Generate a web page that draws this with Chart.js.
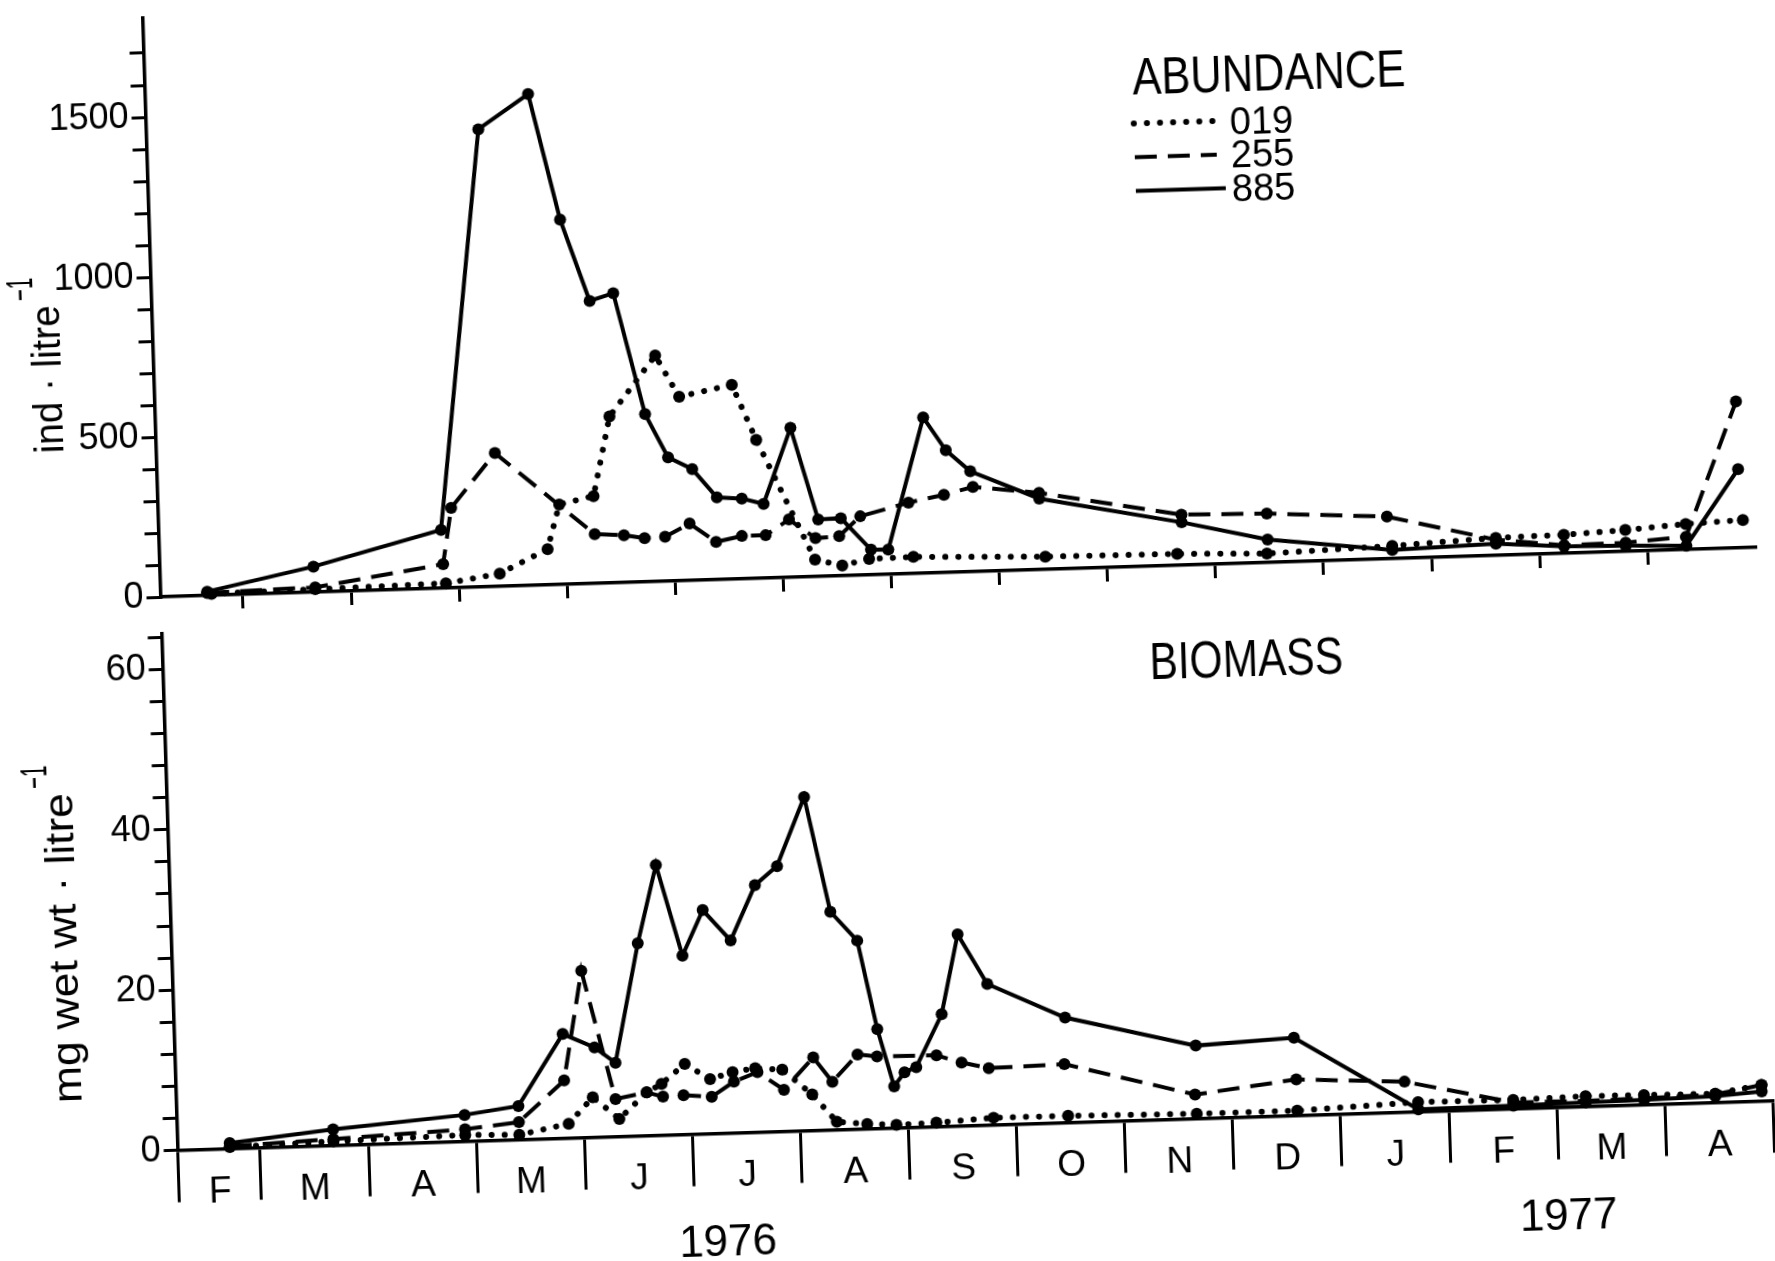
<!DOCTYPE html>
<html>
<head>
<meta charset="utf-8">
<script src="https://cdn.jsdelivr.net/npm/chart.js@4.4.1/dist/chart.umd.min.js"></script>
<style>
  html, body { margin: 0; padding: 0; background: #fff; overflow: hidden; }
  /* the scanned figure sits slightly tilted, so the whole drawing is turned a little */
  #figure { position: absolute; left: 0; top: 0; width: 1775px; height: 1320px;
            transform-origin: 159px 597px; transform: rotate(-1.78deg); }
  #top { position: absolute; left: 0; top: 0; }
  #bottom { position: absolute; left: 0; top: 600px; }
</style>
</head>
<body>
<div id="figure">
  <canvas id="top" width="1775" height="640"></canvas>
  <canvas id="bottom" width="1775" height="720"></canvas>
</div>
<script>
"use strict";

// x is months counted from 1 Feb 1976 (1 = 1 Mar 1976, 15 = 1 May 1977)
const monthLabels = ["F", "M", "A", "M", "J", "J", "A", "S", "O", "N", "D", "J", "F", "M", "A"];
const monthCentres = [0.62, 1.5, 2.5, 3.5, 4.5, 5.5, 6.5, 7.5, 8.5, 9.5, 10.5, 11.5, 12.5, 13.5, 14.5];
const monthBounds = [0.237, 1, 2, 3, 4, 5, 6, 7, 8, 9, 10, 11, 12, 13, 14, 15];
const yearLabels = ["1976", "1977"];
const yearCentres = [5.3, 13.08];

const abundTicks = [0, 100, 200, 300, 400, 500, 600, 700, 800, 900, 1000, 1100, 1200, 1300, 1400, 1500, 1600, 1700];
const abundTickLabels = [0, 500, 1000, 1500];
const bioTicks = [0, 4, 8, 12, 16, 20, 24, 28, 32, 36, 40, 44, 48, 52, 56, 60, 64];
const bioTickLabels = [0, 20, 40, 60];

// ABUNDANCE, ind per litre
const abundDays019 = [0.71, 1.67, 2.88, 3.38, 3.83, 3.95, 4.27, 4.44, 4.88, 5.09, 5.58, 5.79, 6.30, 6.55, 6.80, 7.21, 8.43, 9.65, 10.48, 11.64, 12.60, 13.23, 13.80, 14.36, 14.89];
const abund019 = [5, 9, 15, 40, 112, 250, 273, 520, 706, 575, 607, 433, 53, 32, 50, 52, 40, 36, 28, 40, 55, 58, 67, 80, 87];
const abundDays255 = [0.67, 1.67, 2.86, 2.95, 3.37, 4.27, 4.54, 4.73, 4.92, 5.15, 5.39, 5.63, 5.85, 6.07, 6.31, 6.53, 6.73, 7.18, 7.51, 7.78, 8.39, 9.70, 10.49, 11.60, 12.60, 13.23, 13.80, 14.36, 14.86];
const abund255 = [8, 15, 75, 250, 417, 154, 148, 137, 139, 178, 118, 134, 134, 181, 120, 124, 184, 222, 243, 265, 240, 158, 153, 132, 49, 25, 27, 40, 458];
const abundDays885 = [0.67, 1.66, 2.85, 3.31, 3.78, 4.04, 4.29, 4.51, 4.77, 4.97, 5.19, 5.41, 5.64, 5.84, 6.11, 6.34, 6.55, 6.82, 6.98, 7.34, 7.54, 7.76, 8.39, 9.70, 10.49, 11.64, 12.60, 13.23, 13.80, 14.36, 14.86];
const abund885 = [12, 80, 182, 1430, 1535, 1140, 883, 905, 524, 387, 348, 257, 251, 232, 467, 178, 180, 79, 77, 487, 382, 314, 222, 134, 72, 27, 37, 22, 18, 12, 246];

// BIOMASS, mg wet wt per litre
const bioDays019 = [0.72, 1.68, 2.90, 3.40, 3.86, 4.09, 4.33, 4.59, 4.73, 4.95, 5.18, 5.39, 5.60, 5.85, 6.12, 6.34, 6.62, 6.89, 7.26, 7.79, 8.48, 9.67, 10.60, 11.72, 12.60, 13.27, 13.81, 14.47, 14.90];
const bio019 = [0.2, 0.5, 0.8, 0.6, 1.8, 5.0, 2.2, 5.4, 6.4, 8.8, 6.8, 7.6, 8.0, 7.7, 4.5, 1.0, 0.6, 0.4, 0.5, 0.9, 0.85, 0.6, 0.6, 1.2, 1.1, 1.3, 1.2, 1.1, 2.0];
const bioDays255 = [0.72, 1.68, 2.90, 3.40, 3.83, 4.02, 4.30, 4.59, 4.74, 4.93, 5.19, 5.40, 5.62, 5.86, 6.14, 6.31, 6.55, 6.73, 7.28, 7.51, 7.76, 8.46, 9.66, 10.60, 11.60, 12.60, 13.27, 13.81, 14.47, 14.90];
const bio255 = [0.3, 0.8, 1.5, 2.2, 7.2, 20.8, 4.7, 5.4, 4.8, 4.9, 4.6, 6.4, 7.5, 5.2, 9.1, 6.0, 9.3, 9.0, 8.9, 7.9, 7.1, 7.3, 3.0, 4.5, 3.8, 0.8, 0.7, 0.8, 1.0, 2.0];
const bioDays885 = [0.72, 1.68, 2.90, 3.40, 3.83, 4.12, 4.31, 4.55, 4.74, 4.96, 5.16, 5.41, 5.65, 5.86, 6.13, 6.34, 6.58, 6.74, 6.88, 6.98, 7.09, 7.34, 7.51, 7.77, 8.48, 9.68, 10.59, 11.72, 12.60, 13.27, 13.81, 14.47, 14.90];
const bio885 = [0.7, 2.0, 3.3, 4.2, 13.0, 11.2, 9.2, 24.0, 33.7, 22.3, 27.9, 24.0, 30.8, 33.1, 41.6, 27.2, 23.5, 12.4, 5.2, 6.9, 7.5, 14.0, 23.9, 17.6, 13.1, 9.1, 9.7, 0.3, 0.4, 0.5, 0.6, 0.8, 1.2];

const FONT = "'Liberation Sans', Arial, sans-serif";
Chart.defaults.color = "#000";
Chart.defaults.font.family = FONT;

const X_MIN = monthBounds[0];
const X_MAX = monthBounds[monthBounds.length - 1];

const lineStyle = {
  "019": { borderDash: [0.1, 13], borderCapStyle: "round", borderWidth: 6 },
  "255": { borderDash: [22, 11], borderCapStyle: "butt", borderWidth: 4 },
  "885": { borderDash: [], borderCapStyle: "butt", borderWidth: 4 }
};

function series(label, days, values) {
  return Object.assign({
    label: label,
    data: days.map((d, i) => ({ x: d, y: values[i] })),
    borderColor: "#000",
    backgroundColor: "#000",
    pointBackgroundColor: "#000",
    pointRadius: 6,
    pointBorderWidth: 0,
    tension: 0,
    fill: false,
    clip: false
  }, lineStyle[label]);
}

function zeroPad(s) {
  s.paddingTop = 0; s.paddingBottom = 0; s.paddingLeft = 0; s.paddingRight = 0;
}

// text squeezed to the width of the narrow lettering in the original
function fitText(ctx, text, x, yMid, size, width) {
  ctx.save();
  ctx.font = size + "px " + FONT;
  const w = ctx.measureText(text).width;
  ctx.translate(x, yMid + size * 0.358);
  ctx.scale(width / w, 1);
  ctx.textBaseline = "alphabetic";
  ctx.textAlign = "left";
  ctx.fillText(text, 0, 0);
  ctx.restore();
}

// rotated axis title with a tall, narrow "-1" exponent, stretched to the length of the original
function sideTitle(ctx, text, x, y, size, length, supRaise) {
  ctx.save();
  ctx.translate(x, y);
  ctx.rotate(-Math.PI / 2);
  ctx.fillStyle = "#000";
  ctx.textBaseline = "alphabetic";
  ctx.textAlign = "left";
  ctx.font = size + "px " + FONT;
  const w = ctx.measureText(text).width;
  ctx.save();
  ctx.scale(length / w, 1);
  ctx.fillText(text, 0, 0);
  ctx.restore();
  ctx.translate(length + 5, -supRaise);
  ctx.scale(0.55, 1);
  ctx.font = "37px " + FONT;
  ctx.fillText("\u22121", 0, 0);
  ctx.restore();
}

const axisLine = { color: "#000", width: 3.5 };
const tickFont = { family: FONT, size: 36 };

// ---- top panel: ABUNDANCE ----
new Chart(document.getElementById("top").getContext("2d"), {
  type: "line",
  data: {
    datasets: [
      series("019", abundDays019, abund019),
      series("255", abundDays255, abund255),
      series("885", abundDays885, abund885)
    ]
  },
  options: {
    responsive: false,
    animation: false,
    layout: { padding: { left: 0, right: 18.6, top: 17.8, bottom: 0 } },
    plugins: { legend: { display: false }, tooltip: { enabled: false } },
    scales: {
      x: {
        type: "linear", min: X_MIN, max: X_MAX,
        afterBuildTicks: s => { s.ticks = monthBounds.slice(1, -1).map(v => ({ value: v })); },
        afterFit: s => { s.height = 43; zeroPad(s); },
        grid: { drawOnChartArea: false, tickLength: 14, color: "#000", lineWidth: 3 },
        border: axisLine,
        ticks: { display: false }
      },
      y: {
        min: 0, max: 1810,
        afterBuildTicks: s => { s.ticks = abundTicks.map(v => ({ value: v })); },
        afterFit: s => { s.width = 160.5; zeroPad(s); },
        grid: { drawOnChartArea: false, tickLength: 14, color: "#000", lineWidth: 3 },
        border: axisLine,
        ticks: {
          autoSkip: false, padding: 3, font: tickFont, color: "#000",
          callback: v => abundTickLabels.includes(v) ? String(v) : ""
        }
      }
    }
  },
  plugins: [{
    id: "abundanceText",
    afterDraw(chart) {
      const ctx = chart.ctx;
      ctx.save();
      ctx.fillStyle = "#000";
      ctx.strokeStyle = "#000";
      sideTitle(ctx, "ind · litre", 68, 450, 40, 148, 26);
      fitText(ctx, "ABUNDANCE", 1148, 106.6, 52, 273);
      chart.data.datasets.forEach((ds, i) => {
        const y = 154 + i * 33.7;
        ctx.save();
        ctx.lineWidth = ds.borderWidth;
        ctx.lineCap = ds.borderCapStyle;
        ctx.setLineDash(ds.borderDash);
        ctx.beginPath();
        ctx.moveTo(1148, y);
        ctx.lineTo(i === 2 ? 1238 : 1230, y);
        ctx.stroke();
        ctx.restore();
        ctx.font = "38px " + FONT;
        ctx.textBaseline = "alphabetic";
        ctx.fillText(ds.label, 1244, y + 13.5);
      });
      ctx.restore();
    }
  }]
});

// ---- bottom panel: BIOMASS ----
new Chart(document.getElementById("bottom").getContext("2d"), {
  type: "line",
  data: {
    datasets: [
      series("019", bioDays019, bio019),
      series("255", bioDays255, bio255),
      series("885", bioDays885, bio885)
    ]
  },
  options: {
    responsive: false,
    animation: false,
    layout: { padding: { left: 0, right: 18.6, top: 33.3, bottom: 0 } },
    plugins: { legend: { display: false }, tooltip: { enabled: false } },
    scales: {
      x: {
        type: "linear", position: "bottom", weight: 0, min: X_MIN, max: X_MAX,
        afterBuildTicks: s => {
          s.ticks = monthBounds.concat(monthCentres).sort((a, b) => a - b).map(v => ({ value: v }));
        },
        afterFit: s => { s.height = 60; zeroPad(s); },
        grid: {
          drawOnChartArea: false, tickLength: 52,
          color: c => (c.tick && monthBounds.includes(c.tick.value)) ? "#000" : "rgba(0,0,0,0)",
          lineWidth: c => (c.tick && monthBounds.includes(c.tick.value)) ? 3 : 0
        },
        border: axisLine,
        ticks: {
          autoSkip: false, maxRotation: 0, minRotation: 0, padding: -31,
          font: { family: FONT, size: 37 }, color: "#000",
          callback: v => {
            const i = monthCentres.indexOf(v);
            return i >= 0 ? monthLabels[i] : "";
          }
        }
      },
      xYear: {
        type: "linear", position: "bottom", weight: 1, min: X_MIN, max: X_MAX,
        afterBuildTicks: s => { s.ticks = yearCentres.map(v => ({ value: v })); },
        afterFit: s => { s.height = 109.4; zeroPad(s); },
        grid: { display: false, drawTicks: false },
        border: { display: false },
        ticks: {
          autoSkip: false, maxRotation: 0, minRotation: 0, padding: 24,
          font: { family: FONT, size: 44 }, color: "#000",
          callback: (v, i) => yearLabels[i]
        }
      },
      y: {
        min: 0, max: 64.5,
        afterBuildTicks: s => { s.ticks = bioTicks.map(v => ({ value: v })); },
        afterFit: s => { s.width = 160.5; zeroPad(s); },
        grid: { drawOnChartArea: false, tickLength: 14, color: "#000", lineWidth: 3 },
        border: axisLine,
        ticks: {
          autoSkip: false, padding: 3, font: tickFont, color: "#000",
          callback: v => bioTickLabels.includes(v) ? String(v) : ""
        }
      }
    }
  },
  plugins: [{
    id: "biomassText",
    afterDraw(chart) {
      const ctx = chart.ctx;
      ctx.save();
      ctx.fillStyle = "#000";
      sideTitle(ctx, "mg wet wt · litre", 66, 500, 40, 310, 25);
      fitText(ctx, "BIOMASS", 1147, 91, 52, 193.5);
      ctx.restore();
    }
  }]
});
</script>
</body>
</html>
